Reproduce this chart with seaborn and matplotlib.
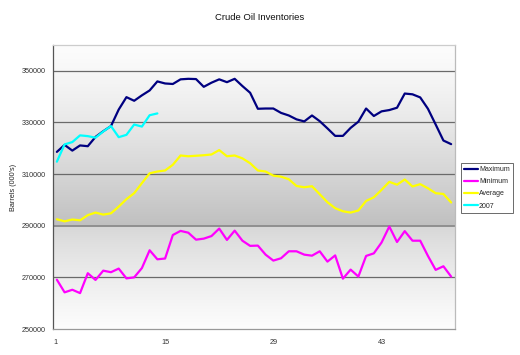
import numpy as np
import pandas as pd
import matplotlib
matplotlib.use("Agg")
import matplotlib.pyplot as plt
import seaborn as sns
from matplotlib.lines import Line2D

sns.set_style("white")
plt.rcParams['font.family'] = ['Liberation Sans', 'DejaVu Sans']

weeks = list(range(1, 53))
maximum = [318.6, 321.3, 319.1, 321.1, 320.8, 324.4, 326.6, 328.6, 335.0, 339.8,
           338.4, 340.5, 342.4, 345.9, 345.1, 344.9, 346.7, 346.9, 346.8, 343.8,
           345.4, 346.7, 345.6, 346.9, 344.1, 341.5, 335.3, 335.4, 335.4, 333.7,
           332.7, 331.2, 330.4, 332.7, 330.5, 327.7, 324.8, 324.8, 327.9, 330.3,
           335.4, 332.5, 334.3, 334.8, 335.7, 341.2, 340.9, 339.7, 335.3, 329.2,
           323.0, 321.6]
minimum = [269.1, 264.2, 265.2, 263.9, 271.6, 269.0, 272.6, 272.0, 273.4, 269.6,
           270.0, 273.6, 280.5, 277.0, 277.3, 286.4, 288.0, 287.3, 284.6, 285.0,
           286.0, 288.9, 284.5, 288.1, 284.2, 282.2, 282.3, 278.8, 276.5, 277.4,
           280.1, 280.1, 278.8, 278.4, 280.1, 276.1, 278.5, 269.5, 273.0, 270.3,
           278.3, 279.3, 283.5, 289.7, 283.7, 287.9, 284.2, 284.2, 278.3, 272.9,
           274.3, 270.3]
average = [292.5, 291.7, 292.4, 292.1, 294.1, 295.1, 294.3, 294.8, 297.4, 300.3,
           302.6, 306.5, 310.3, 311.0, 311.4, 313.6, 317.2, 316.9, 317.1, 317.3,
           317.6, 319.3, 316.9, 317.2, 316.1, 314.2, 311.4, 311.0, 309.4, 309.0,
           308.0, 305.4, 304.9, 305.3, 302.2, 299.1, 296.8, 295.6, 295.1, 295.9,
           299.6, 301.0, 303.9, 307.0, 305.9, 307.9, 305.2, 306.1, 304.5, 302.6,
           302.3, 299.0]
y2007 = [314.8, 321.5, 322.4, 325.0, 324.7, 324.1, 326.5, 328.6, 324.3, 325.2,
         329.2, 328.4, 332.8, 333.5]

series_names = ["Maximum", "Minimum", "Average", "2007"]
series_colors = ["#000080", "#FF00FF", "#FFFF00", "#00FFFF"]
x_tick_labels = ["1", "15", "29", "43"]
y_ticks = [250000, 270000, 290000, 310000, 330000, 350000]

frames = []
for name, vals in zip(series_names, [maximum, minimum, average, y2007]):
    frames.append(pd.DataFrame({"week": weeks[:len(vals)],
                                "value": np.array(vals) * 1000,
                                "series": name}))
df = pd.concat(frames, ignore_index=True)

fig = plt.figure(figsize=(5.2, 3.55), dpi=100)
fig.patch.set_facecolor("white")
ax = fig.add_axes([53/520, 1 - 329/355, (455 - 53)/520, (329 - 45)/355])

# gradient background
ys = np.linspace(360000, 250000, 400)
g = np.empty_like(ys)
for i, v in enumerate(ys):
    if v >= 290000:
        t = (360000 - v) / 70000.0
        g[i] = 252 - (t ** 1.3) * 60
    else:
        t = (290000 - v) / 40000.0
        g[i] = 214 + (t ** 0.8) * 39
g = np.clip(g, 0, 255) / 255.0
img = np.repeat(g[:, None], 2, axis=1)
rgb = np.stack([img, img, img], axis=-1)
ax.imshow(rgb, extent=(0.5, 52.5, 250000, 360000), aspect="auto",
          origin="upper", zorder=0, interpolation="bilinear")

for yv in y_ticks[1:]:
    ax.axhline(yv, color="#6a6a6a" if yv != 290000 else "#8a8a8a",
               lw=0.9 if yv != 290000 else 1.3, zorder=1)

sns.lineplot(data=df, x="week", y="value", hue="series",
             hue_order=series_names, palette=series_colors,
             linewidth=1.6, ax=ax, legend=False, zorder=3)

ax.set_xlim(0.5, 52.5)
ax.set_ylim(250000, 360000)
ax.set_xticks([0.5, 14.5, 28.5, 42.5])
ax.set_xticklabels(x_tick_labels)
ax.set_yticks(y_ticks)
ax.set_yticklabels([str(v) for v in y_ticks])
ax.tick_params(axis="both", labelsize=5.2, colors="#333333", length=3,
               width=0.7, direction="out", pad=2)
ax.tick_params(axis="x", pad=4)
for lbl in ax.get_xticklabels():
    lbl.set_horizontalalignment("left")
ax.set_xlabel("")
ax.set_ylabel("Barrels (000's)", fontsize=5.2, color="#222222", labelpad=6)
ax.yaxis.set_label_coords(-0.09, 0.5)

ax.spines["left"].set_color("#555555")
ax.spines["bottom"].set_color("#999999")
ax.spines["top"].set_color("#cccccc")
ax.spines["right"].set_color("#bbbbbb")
for s in ax.spines.values():
    s.set_linewidth(0.9)
ax.tick_params(axis="x", colors="#555555", labelcolor="#333333")
ax.tick_params(axis="y", colors="#555555", labelcolor="#333333")

fig.text(260/520, 1 - 18/355, "Crude Oil Inventories", ha="center", va="center",
         fontsize=6.8, color="#111111")

handles = [Line2D([0], [0], color=c, lw=1.6) for c in series_colors]
leg = fig.legend(handles, series_names, loc="upper left",
                 bbox_to_anchor=(461/520, 1 - 162.5/355),
                 fontsize=5, frameon=True, fancybox=False, handlelength=2.0,
                 handletextpad=0.1, borderpad=0.5, labelspacing=0.75,
                 borderaxespad=0)
leg.get_frame().set_edgecolor("#444444")
leg.get_frame().set_linewidth(0.7)

fig.savefig("out.png", dpi=100, facecolor="white")
